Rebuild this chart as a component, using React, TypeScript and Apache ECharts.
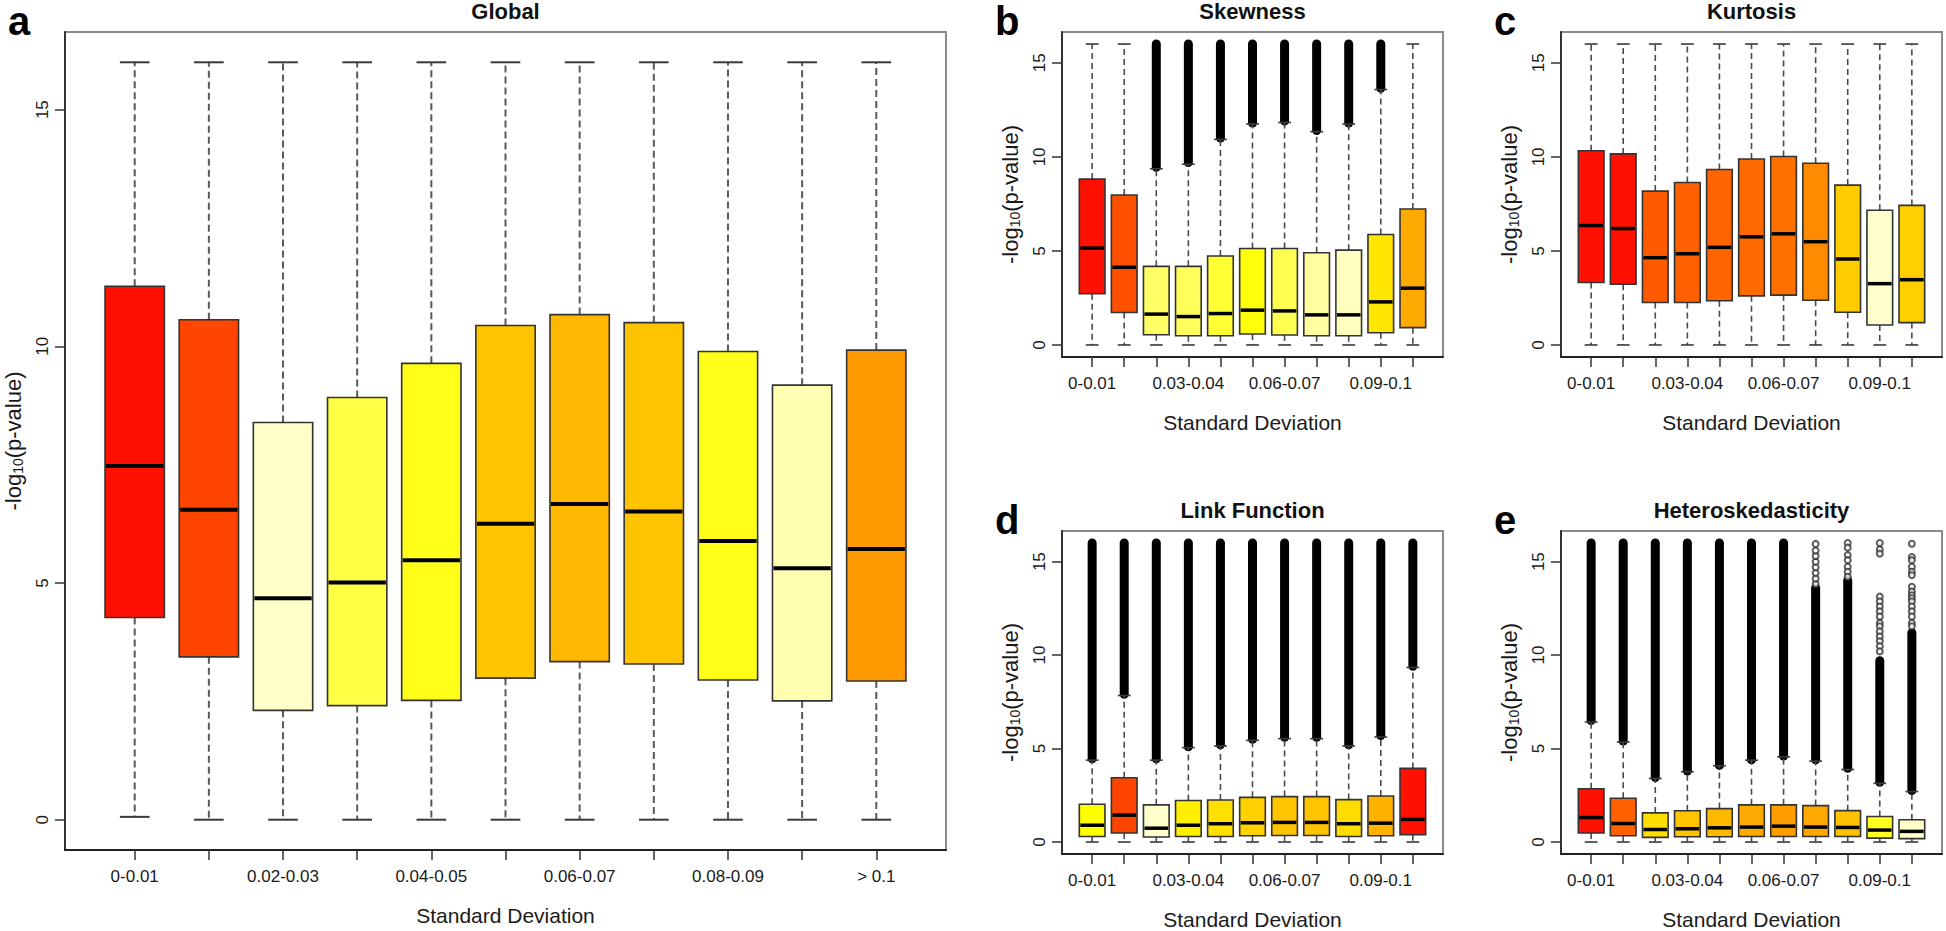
import React, { useEffect, useRef } from 'react';
import * as echarts from 'echarts';

const FONT = "'Liberation Sans', Arial, Helvetica, sans-serif";

const categories = ['0-0.01', '0.01-0.02', '0.02-0.03', '0.03-0.04', '0.04-0.05', '0.05-0.06', '0.06-0.07', '0.07-0.08', '0.08-0.09', '0.09-0.1', '> 0.1'];
const yTicks = [0, 5, 10, 15];
const labelsGlobal = [1, 3, 5, 7, 9, 11];
const labelsSmall = [1, 4, 7, 10];

// a: Global
const globalLow = [0.06, 0, 0, 0, 0, 0, 0, 0, 0, 0, 0];
const globalQ1 = [4.27, 3.44, 2.31, 2.41, 2.52, 2.99, 3.34, 3.29, 2.95, 2.51, 2.93];
const globalMedian = [7.47, 6.55, 4.68, 5.01, 5.48, 6.25, 6.67, 6.51, 5.89, 5.31, 5.72];
const globalQ3 = [11.27, 10.56, 8.39, 8.92, 9.64, 10.44, 10.67, 10.5, 9.89, 9.18, 9.92];
const globalHigh = [16, 16, 16, 16, 16, 16, 16, 16, 16, 16, 16];
const globalColors = ['#FF1000', '#FF4500', '#FFFFC8', '#FFFF44', '#FFFF1A', '#FFC500', '#FFB700', '#FFC400', '#FFFF18', '#FFFFB2', '#FF9900'];

// b: Skewness
const skewLow = [0, 0, 0, 0, 0, 0, 0, 0, 0, 0, 0];
const skewQ1 = [2.72, 1.73, 0.54, 0.49, 0.49, 0.58, 0.53, 0.49, 0.49, 0.65, 0.92];
const skewMedian = [5.15, 4.13, 1.64, 1.51, 1.67, 1.85, 1.81, 1.6, 1.6, 2.29, 3.02];
const skewQ3 = [8.82, 7.97, 4.18, 4.18, 4.73, 5.13, 5.13, 4.9, 5.04, 5.87, 7.23];
const skewHigh = [16, 16, 9.37, 9.61, 10.93, 11.75, 11.83, 11.34, 11.75, 13.58, 16];
const skewOutLow = [null, null, 9.45, 9.7, 11.0, 11.8, 11.9, 11.4, 11.8, 13.65, null];
const skewOutHigh = [null, null, 16, 16, 16, 16, 16, 16, 16, 16, null];
const skewColors = ['#FF1000', '#FF5000', '#FFFF66', '#FFFF5C', '#FFFF33', '#FFFF0A', '#FFFF52', '#FFFFA0', '#FFFFBE', '#FFE600', '#FFAA00'];

// c: Kurtosis
const kurtLow = [0, 0, 0, 0, 0, 0, 0, 0, 0, 0, 0];
const kurtQ1 = [3.32, 3.23, 2.26, 2.26, 2.35, 2.61, 2.65, 2.38, 1.74, 1.06, 1.19];
const kurtMedian = [6.35, 6.19, 4.64, 4.85, 5.19, 5.75, 5.91, 5.49, 4.57, 3.26, 3.47];
const kurtQ3 = [10.33, 10.16, 8.18, 8.64, 9.33, 9.89, 10.02, 9.66, 8.5, 7.16, 7.42];
const kurtHigh = [16, 16, 16, 16, 16, 16, 16, 16, 16, 16, 16];
const kurtColors = ['#FF1000', '#FF1000', '#FF5A00', '#FF6000', '#FF6400', '#FF6A00', '#FF7000', '#FF8C00', '#FFCC00', '#FFFFCC', '#FFCF00'];

// d: Link Function
const linkLow = [0, 0, 0, 0, 0, 0, 0, 0, 0, 0, 0];
const linkQ1 = [0.3, 0.48, 0.27, 0.3, 0.3, 0.34, 0.35, 0.35, 0.3, 0.34, 0.39];
const linkMedian = [0.9, 1.44, 0.74, 0.9, 0.98, 1.03, 1.05, 1.05, 0.98, 1.01, 1.21];
const linkQ3 = [2.02, 3.44, 1.99, 2.22, 2.25, 2.39, 2.43, 2.43, 2.27, 2.46, 3.94];
const linkHigh = [4.38, 7.84, 4.38, 5.05, 5.14, 5.44, 5.53, 5.53, 5.14, 5.62, 9.34];
const linkOutLow = [4.45, 7.9, 4.45, 5.1, 5.2, 5.5, 5.6, 5.6, 5.2, 5.7, 9.4];
const linkOutHigh = [16, 16, 16, 16, 16, 16, 16, 16, 16, 16, 16];
const linkColors = ['#FFFF00', '#FF4400', '#FFFFCC', '#FFEE00', '#FFE000', '#FFD200', '#FFC400', '#FFC400', '#FFDC00', '#FFB200', '#FF1100'];

// e: Heteroskedasticity
const hetLow = [0, 0, 0, 0, 0, 0, 0, 0, 0, 0, 0];
const hetQ1 = [0.48, 0.34, 0.25, 0.28, 0.28, 0.3, 0.3, 0.3, 0.3, 0.21, 0.18];
const hetMedian = [1.31, 0.99, 0.67, 0.71, 0.76, 0.8, 0.85, 0.8, 0.78, 0.64, 0.57];
const hetQ3 = [2.85, 2.34, 1.56, 1.67, 1.79, 1.99, 1.99, 1.95, 1.68, 1.37, 1.19];
const hetHigh = [6.42, 5.35, 3.4, 3.76, 4.08, 4.38, 4.56, 4.33, 3.88, 3.14, 2.7];
const hetOutLow = [6.5, 5.4, 3.45, 3.8, 4.1, 4.4, 4.6, 4.4, 3.95, 3.2, 2.75];
const hetOutHigh = [16, 16, 16, 16, 16, 16, 16, 13.6, 14.0, 9.7, 11.2];
const hetSparseCat = [8, 8, 8, 8, 8, 8, 8, 8, 9, 9, 9, 9, 9, 9, 9, 10, 10, 10, 10, 10, 10, 10, 10, 10, 10, 10, 10, 10, 10, 10, 11, 11, 11, 11, 11, 11, 11, 11, 11, 11, 11, 11, 11, 11, 11, 11];
const hetSparseValue = [13.8, 14.1, 14.4, 14.7, 15.0, 15.3, 15.6, 15.95, 16.0, 15.75, 15.35, 15.08, 14.73, 14.46, 14.19, 16.0, 15.65, 15.43, 13.13, 12.87, 12.6, 12.34, 12.07, 11.72, 11.54, 11.27, 11.0, 10.74, 10.48, 10.2, 15.96, 15.25, 15.08, 14.73, 14.46, 14.28, 13.66, 13.4, 13.2, 13.04, 12.87, 12.6, 12.34, 12.07, 11.72, 11.54];
const hetColors = ['#FF1100', '#FF6000', '#FFE000', '#FFC400', '#FFBA00', '#FFAA00', '#FF9C00', '#FFA800', '#FFC200', '#FFFF22', '#FFFFC8'];

type Panel = {
  title: string; letter: string;
  grid: { left: number; top: number; width: number; height: number };
  low: number[]; q1: number[]; med: number[]; q3: number[]; high: number[];
  colors: string[]; outLow?: (number | null)[]; outHigh?: (number | null)[];
  labels: number[]; big: boolean;
};

const panels: Panel[] = [
  { title: 'Global', letter: 'a', grid: { left: 65, top: 32, width: 881, height: 825 }, low: globalLow, q1: globalQ1, med: globalMedian, q3: globalQ3, high: globalHigh, colors: globalColors, labels: labelsGlobal, big: true },
  { title: 'Skewness', letter: 'b', grid: { left: 1062, top: 32, width: 381, height: 325 }, low: skewLow, q1: skewQ1, med: skewMedian, q3: skewQ3, high: skewHigh, colors: skewColors, outLow: skewOutLow, outHigh: skewOutHigh, labels: labelsSmall, big: false },
  { title: 'Kurtosis', letter: 'c', grid: { left: 1561, top: 32, width: 381, height: 325 }, low: kurtLow, q1: kurtQ1, med: kurtMedian, q3: kurtQ3, high: kurtHigh, colors: kurtColors, labels: labelsSmall, big: false },
  { title: 'Link Function', letter: 'd', grid: { left: 1062, top: 531, width: 381, height: 326 }, low: linkLow, q1: linkQ1, med: linkMedian, q3: linkQ3, high: linkHigh, colors: linkColors, outLow: linkOutLow, outHigh: linkOutHigh, labels: labelsSmall, big: false },
  { title: 'Heteroskedasticity', letter: 'e', grid: { left: 1561, top: 531, width: 381, height: 326 }, low: hetLow, q1: hetQ1, med: hetMedian, q3: hetQ3, high: hetHigh, colors: hetColors, outLow: hetOutLow, outHigh: hetOutHigh, labels: labelsSmall, big: false },
];

function buildOption() {
  const grids: any[] = [];
  const xAxes: any[] = [];
  const yAxes: any[] = [];
  const series: any[] = [];
  const graphic: any[] = [];
  const tickPositions = categories.map((_, i) => i + 1);

  panels.forEach((p, gi) => {
    grids.push({ ...p.grid, show: true, borderColor: '#8a8a8a', borderWidth: 2, backgroundColor: 'transparent' });
    xAxes.push({
      gridIndex: gi, type: 'value', min: 0.06, max: 11.94,
      splitLine: { show: false },
      axisLine: { show: true, onZero: false, lineStyle: { color: '#222', width: 2 } },
      axisTick: { show: true, customValues: tickPositions, length: 10, lineStyle: { color: '#333', width: 1.5 } },
      axisLabel: { customValues: p.labels, formatter: (v: number) => categories[Math.round(v) - 1] ?? '', fontSize: 17, color: '#1a1a1a', fontFamily: FONT, margin: 18, hideOverlap: false },
      name: 'Standard Deviation', nameLocation: 'middle', nameGap: 55,
      nameTextStyle: { fontSize: 21, color: '#1a1a1a', fontFamily: FONT },
    });
    yAxes.push({
      gridIndex: gi, type: 'value', min: -0.64, max: 16.64,
      splitLine: { show: false },
      axisLine: { show: true, onZero: false, lineStyle: { color: '#333', width: 2 } },
      axisTick: { show: true, customValues: yTicks, length: 10, lineStyle: { color: '#333', width: 1.5 } },
      axisLabel: { customValues: yTicks, rotate: 90, fontSize: 17, color: '#1a1a1a', fontFamily: FONT, margin: 14 },
      name: '-log{sub|10}(p-value)', nameLocation: 'middle', nameGap: 40, nameRotate: 90,
      nameTextStyle: { fontSize: 22, color: '#1a1a1a', fontFamily: FONT, rich: { sub: { fontSize: 14, fontFamily: FONT, color: '#1a1a1a', padding: [10, 0, 0, 0] } } },
    });

    const data = categories.map((_, i) => [i + 1, p.low[i], p.q1[i], p.med[i], p.q3[i], p.high[i]]);
    series.push({
      type: 'custom', xAxisIndex: gi, yAxisIndex: gi, data, clip: false,
      encode: { x: 0, y: [1, 2, 3, 4, 5] },
      renderItem: (params: any, api: any) => {
        const i = params.dataIndex;
        const x = api.value(0);
        const cx = api.coord([x, 0])[0];
        const yv = (v: number) => api.coord([x, v])[1];
        const w = api.size([1, 0])[0] * 0.8;
        const yLow = yv(api.value(1));
        const yQ1 = yv(api.value(2));
        const yMed = yv(api.value(3));
        const yQ3 = yv(api.value(4));
        const yHigh = yv(api.value(5));
        const dashColor = p.big ? '#5a5a5a' : '#4a4a4a';
        const dash = p.big ? [7, 4] : [6, 4];
        const lw = p.big ? 2 : 1.6;
        const children: any[] = [];
        const ol = p.outLow ? p.outLow[i] : null;
        const oh = p.outHigh ? p.outHigh[i] : null;
        if (ol != null && oh != null) {
          const yTop = yv(oh as number);
          const yBot = yv(ol as number);
          children.push({ type: 'rect', shape: { x: cx - 4.5, y: yTop - 4.5, width: 9, height: yBot - yTop + 9, r: 4.5 }, style: { fill: '#000' } });
        }
        children.push({ type: 'line', shape: { x1: cx, y1: yQ3, x2: cx, y2: yHigh }, style: { stroke: dashColor, lineWidth: lw, lineDash: dash } });
        children.push({ type: 'line', shape: { x1: cx, y1: yQ1, x2: cx, y2: yLow }, style: { stroke: dashColor, lineWidth: lw, lineDash: dash } });
        children.push({ type: 'line', shape: { x1: cx - w / 4, y1: yHigh, x2: cx + w / 4, y2: yHigh }, style: { stroke: '#3a3a3a', lineWidth: lw } });
        children.push({ type: 'line', shape: { x1: cx - w / 4, y1: yLow, x2: cx + w / 4, y2: yLow }, style: { stroke: '#3a3a3a', lineWidth: lw } });
        children.push({ type: 'rect', shape: { x: cx - w / 2, y: yQ3, width: w, height: yQ1 - yQ3 }, style: { fill: p.colors[i], stroke: '#333', lineWidth: 1.6 } });
        children.push({ type: 'line', shape: { x1: cx - w / 2 + 1, y1: yMed, x2: cx + w / 2 - 1, y2: yMed }, style: { stroke: '#000', lineWidth: p.big ? 4 : 3.5 } });
        return { type: 'group', children };
      },
    });

    graphic.push({
      type: 'text', x: p.grid.left + p.grid.width / 2, y: p.grid.top - 21,
      style: { text: p.title, fontSize: 22, fontWeight: 'bold', fontFamily: FONT, fill: '#111', align: 'center', verticalAlign: 'middle' },
    });
    graphic.push({
      type: 'text', x: p.big ? 8 : p.grid.left - 67, y: p.grid.top - 11,
      style: { text: p.letter, fontSize: 40, fontWeight: 'bold', fontFamily: FONT, fill: '#000', align: 'left', verticalAlign: 'middle' },
    });
  });

  // sparse outliers for Heteroskedasticity (grid 4)
  series.push({
    type: 'scatter', xAxisIndex: 4, yAxisIndex: 4,
    data: hetSparseCat.map((c, i) => [c, hetSparseValue[i]]),
    symbol: 'emptyCircle', symbolSize: 6,
    itemStyle: { color: '#333', borderColor: '#333', borderWidth: 1.3 },
    clip: false,
  });

  return { animation: false, backgroundColor: '#fff', grid: grids, xAxis: xAxes, yAxis: yAxes, series, graphic };
}

export default function App() {
  const ref = useRef<HTMLDivElement>(null);
  useEffect(() => {
    if (!ref.current) return;
    const chart = echarts.init(ref.current, null, { renderer: 'svg' });
    chart.setOption(buildOption() as any);
    return () => chart.dispose();
  }, []);
  return <div ref={ref} style={{ position: 'absolute', left: 0, top: 0, width: 1946, height: 931, background: '#fff' }} />;
}
